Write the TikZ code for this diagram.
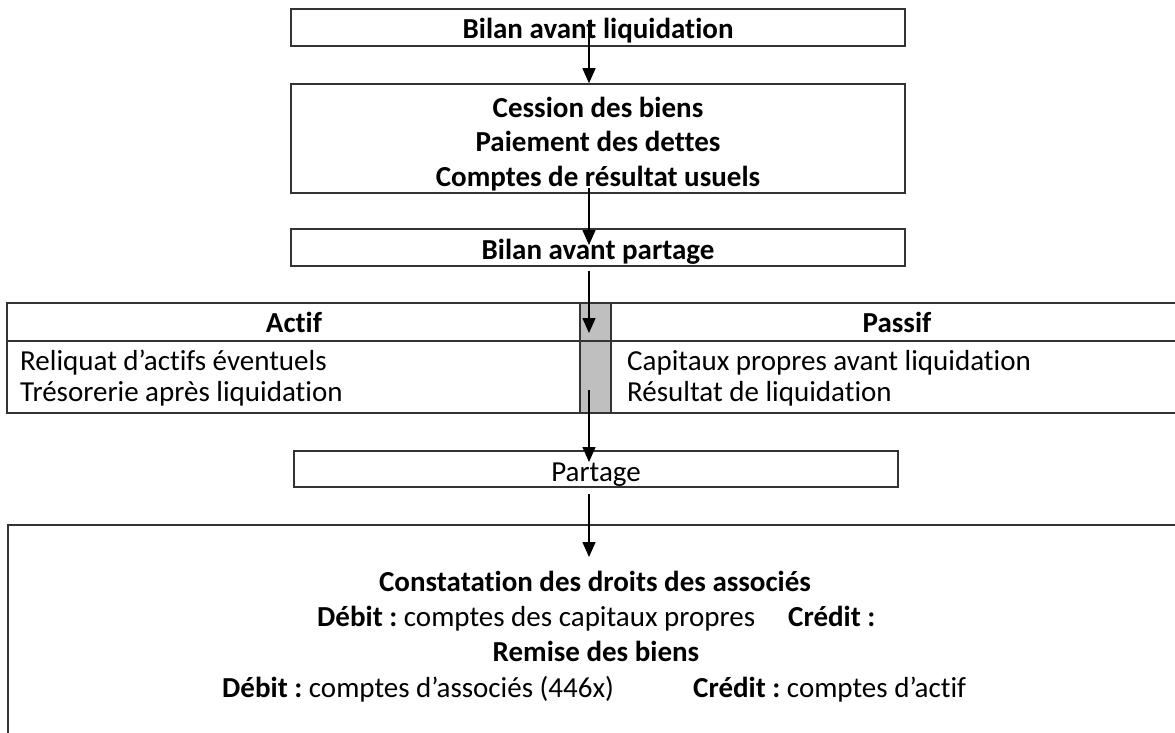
\documentclass[tikz,border=0pt]{standalone}
\usepackage{fontspec}
\setmainfont{Carlito}[RawFeature={-liga}]
\usetikzlibrary{arrows.meta}
\frenchspacing
\begin{document}
\begin{tikzpicture}[x=1pt,y=-1pt,
  every node/.style={font=\fontsize{29}{35}\selectfont},
  frame/.style={draw=black!80, line width=1.5pt, inner sep=0pt},
  txt/.style={inner sep=0pt, anchor=base},
  txtl/.style={inner sep=0pt, anchor=base west},
  bold/.style={font=\fontsize{29}{35}\selectfont\bfseries},
  arr/.style={line width=1.5pt, -{Triangle[length=15pt,width=13pt]}},
  grid/.style={draw=black!80, line width=1.3pt}
]
\useasboundingbox (0,0) rectangle (1175,733);

% boxes
\node[frame, minimum width=614pt, minimum height=37pt] (b1) at (598,27.5) {};
\node[frame, minimum width=614pt, minimum height=109pt] (b2) at (598,138.5) {};
\node[frame, minimum width=614pt, minimum height=37pt] (b3) at (598,247.5) {};
\node[frame, minimum width=604pt, minimum height=36pt] (b4) at (596,469) {};

% table
\node[fill=black!25, draw=black!80, line width=1.3pt, inner sep=0pt, minimum width=31pt, minimum height=110pt] (gc) at (595.5,358) {};
\draw[grid] (1175,303) -- (7,303) -- (7,413) -- (1175,413);
\draw[grid] (7,341) -- (1175,341);
\draw[grid] (gc.north west) -- (gc.south west);
\draw[grid] (gc.north east) -- (gc.south east);

% big box (open on right and bottom)
\coordinate (bbtr) at (1175,525);
\coordinate (bbtl) at (8,525);
\coordinate (bbbl) at (8,733);
\draw[frame] (bbtr) -- (bbtl) -- (bbbl);

% texts
\node[txt, bold] (t1) at (598,39) {Bilan avant liquidation};
\node[txt, bold] (t2a) at (598,118) {Cession des biens};
\node[txt, bold] (t2b) at (598,152) {Paiement des dettes};
\node[txt, bold] (t2c) at (598,186) {Comptes de résultat usuels};
\node[txt, bold] (t3) at (598,259) {Bilan avant partage};
\node[txt, bold] (hA) at (294,332) {Actif};
\node[txt, bold] (hP) at (897,332) {Passif};
\node[txtl] (r1) at (20,370) {Reliquat d’actifs éventuels};
\node[txtl] (r2) at (20,401) {Trésorerie après liquidation};
\node[txtl] (r3) at (627,370) {Capitaux propres avant liquidation};
\node[txtl] (r4) at (627,401) {Résultat de liquidation};
\node[txt] (t4) at (596,481) {Partage};
\node[txt, bold] (c1) at (595,591) {Constatation des droits des associés};
\node[txtl] (c2) at (317,626) {\textbf{Débit :} comptes des capitaux propres};
\node[txtl, bold] (c3) at (788,626) {Crédit :};
\node[txt, bold] (c4) at (596,661) {Remise des biens};
\node[txtl] (c5) at (222,697) {\textbf{Débit :} comptes d’associés (446x)};
\node[txtl] (c6) at (693,697) {\textbf{Crédit :} comptes d’actif};

% arrows
\coordinate (s1) at (589,20);
\coordinate (s2) at (589,188);
\coordinate (e2) at (589,245);
\coordinate (s3) at (589,271);
\coordinate (e3) at (589,333);
\coordinate (s4) at (589,390);
\coordinate (e4) at (589,462);
\coordinate (s5) at (589,494);
\coordinate (e5) at (589,557);
\draw[arr] (s1) -- (s1 |- b2.north);
\draw[arr] (s2) -- (e2);
\draw[arr] (s3) -- (e3);
\draw[arr] (s4) -- (e4);
\draw[arr] (s5) -- (e5);
\end{tikzpicture}
\end{document}
